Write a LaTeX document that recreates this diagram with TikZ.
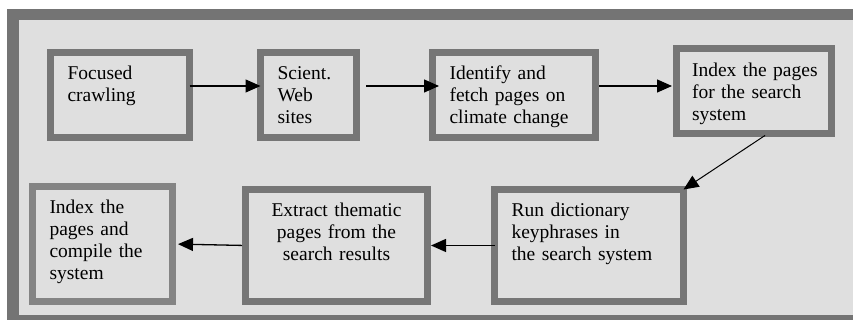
\documentclass[tikz,border=0pt]{standalone}
\usepackage{fontspec}
\setmainfont{Liberation Serif}
\usetikzlibrary{arrows.meta}
\definecolor{framegray}{RGB}{116,116,116}
\definecolor{boxgray}{RGB}{118,118,118}
\definecolor{bggray}{RGB}{223,223,223}
\begin{document}
\begin{tikzpicture}[x=1pt, y=1pt,
    stage/.style={draw=boxgray, fill=bggray, line width=7.5pt, rectangle, outer sep=0pt,
        inner xsep=17pt, inner ysep=0pt, align=left, text height=27.5pt, text depth=57.5pt,
        font=\fontsize{19.5}{22}\selectfont},
    tall/.style={text depth=84.5pt},
    arrow/.style={line width=1.3pt, -{Triangle[length=15pt,width=13pt]}}]
    \useasboundingbox (0,0) rectangle (853,320);
    \clip (0,0) rectangle (853,320);
    \draw[line width=11.5pt, draw=framegray, fill=bggray] (12.75,305.25) rectangle (880,-0.75);

    \node[stage, text width=105pt](crawl) at (120, 225) {Focused\\crawling};
    \node[stage, text width=62pt](sites) at (308.5, 225) {Scient.\\Web\\sites};
    \node[stage, text width=129pt](fetch) at (514, 225) {Identify and\\fetch pages on\\climate change};
    \node[stage, inner xsep=15.5pt, text width=124pt, text height=28.5pt, text depth=56.5pt](index) at (754, 229) {\mbox{Index the pages}\\for the search\\system};

    \node[stage, tall, text width=155pt](run) at (589, 74.5) {Run dictionary\\keyphrases in\\the search system};
    \node[stage, tall, text width=148pt, align=center](extract) at (336.5, 74.5) {Extract thematic\\pages from the\\search results};
    \node[stage, text width=106pt, text depth=87.5pt, draw=boxgray!90!white](compile) at (102.5, 76) {Index the\\pages and\\compile the\\system};

    \draw[arrow] ([yshift=9pt]crawl.east) -- ([yshift=9pt]sites.west);
    \draw[arrow] ([xshift=9.5pt,yshift=9pt]sites.east) -- ([xshift=6.5pt,yshift=9pt]fetch.west);
    \draw[arrow, shorten <=3.5pt, shorten >=4.5pt] ([yshift=9pt]fetch.east) -- ([yshift=5pt]index.west);
    \draw[arrow, line width=1pt, shorten <=3.5pt] ([xshift=14pt]index.south) -- (run.north east);
    \draw[arrow, shorten >=3.5pt] (run.west) -- (extract.east);
    \draw[arrow, shorten <=3.5pt, shorten >=5.5pt] (extract.west) -- (compile.east);
\end{tikzpicture}
\end{document}
